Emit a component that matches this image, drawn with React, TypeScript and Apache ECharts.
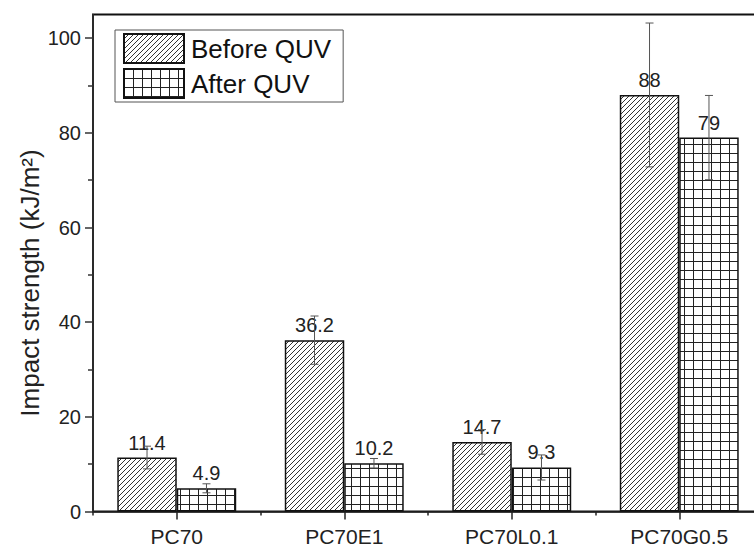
import React, { useEffect, useRef } from 'react';
import * as echarts from 'echarts';

const categories = ['PC70', 'PC70E1', 'PC70L0.1', 'PC70G0.5'];
const beforeQUV = [11.4, 36.2, 14.7, 88];
const afterQUV = [4.9, 10.2, 9.3, 79];
const beforeErr = [2.4, 5.1, 2.6, 15.2];
const afterErr = [0.95, 1.0, 2.65, 8.9];
const yTicks = [0, 20, 40, 60, 80, 100];
const yMinorTicks = [10, 30, 50, 70, 90];
const seriesNames = ['Before QUV', 'After QUV'];
const yTitle = 'Impact strength (kJ/m²)';

const FONT = "'Liberation Sans', Arial, Helvetica, sans-serif";
const GAP = 0.29;

function makeHatch() {
  const s = 5;
  const c = document.createElement('canvas');
  c.width = s;
  c.height = s;
  const ctx = c.getContext('2d')!;
  ctx.fillStyle = '#fff';
  ctx.fillRect(0, 0, s, s);
  ctx.strokeStyle = '#333';
  ctx.lineWidth = 1;
  ctx.beginPath();
  ctx.moveTo(-1, s + 1);
  ctx.lineTo(s + 1, -1);
  ctx.moveTo(-1, 1);
  ctx.lineTo(1, -1);
  ctx.moveTo(s - 1, s + 1);
  ctx.lineTo(s + 1, s - 1);
  ctx.stroke();
  return { image: c, repeat: 'repeat', imageWidth: s, imageHeight: s };
}

function makeGrid() {
  const s = 9;
  const c = document.createElement('canvas');
  c.width = s;
  c.height = s;
  const ctx = c.getContext('2d')!;
  ctx.fillStyle = '#fff';
  ctx.fillRect(0, 0, s, s);
  ctx.fillStyle = '#222';
  ctx.fillRect(0, 0, s, 1);
  ctx.fillRect(0, 0, 1, s);
  return { image: c, repeat: 'repeat', imageWidth: s, imageHeight: s };
}

const makeErr = (sign: number) => (params: any, api: any) => {
  const idx = api.value(0);
  const v = api.value(1);
  const e = api.value(2);
  const band = api.size([1, 0])[0];
  const barW = (band * (1 - GAP)) / 2;
  const cx = api.coord([idx, v])[0] + (sign * barW) / 2;
  const yt = api.coord([idx, v + e])[1];
  const yb = api.coord([idx, v - e])[1];
  const cap = 4;
  const style = { stroke: '#555', lineWidth: 1 };
  return {
    type: 'group',
    children: [
      { type: 'line', shape: { x1: cx, y1: yt, x2: cx, y2: yb }, style },
      { type: 'line', shape: { x1: cx - cap, y1: yt, x2: cx + cap, y2: yt }, style },
      { type: 'line', shape: { x1: cx - cap, y1: yb, x2: cx + cap, y2: yb }, style },
    ],
  };
};

export default function App() {
  const ref = useRef<HTMLDivElement>(null);
  useEffect(() => {
    document.body.style.margin = '0';
    const chart = echarts.init(ref.current!, null, { renderer: 'svg' });
    const hatch = makeHatch();
    const grid = makeGrid();
    const labelStyle = {
      show: true,
      position: 'top',
      distance: 5,
      fontSize: 20,
      color: '#222',
      fontFamily: FONT,
    };
    chart.setOption({
      animation: false,
      backgroundColor: '#fff',
      textStyle: { fontFamily: FONT },
      grid: {
        left: 93,
        top: 14.5,
        width: 670,
        height: 497,
        show: true,
        borderColor: '#111',
        borderWidth: 2,
        backgroundColor: 'transparent',
        containLabel: false,
        outerBoundsMode: 'none',
      },
      legend: {
        data: seriesNames,
        orient: 'vertical',
        left: 115,
        top: 30,
        icon: 'rect',
        itemWidth: 60,
        itemHeight: 29,
        itemGap: 4,
        padding: [3, 12, 3, 8],
        borderColor: '#555',
        borderWidth: 1,
        selectedMode: false,
        textStyle: { fontSize: 26, color: '#111', fontFamily: FONT, padding: [0, 0, 0, 2] },
      },
      xAxis: [
        {
          type: 'category',
          data: categories,
          position: 'bottom',
          boundaryGap: true,
          axisLine: { show: true, lineStyle: { color: '#222', width: 1.5 } },
          axisTick: { show: true, alignWithLabel: true, length: 8, lineStyle: { color: '#222', width: 1.5 } },
          axisLabel: { fontSize: 21, color: '#222', margin: 14, fontFamily: FONT },
          splitLine: { show: false },
        },
        {
          type: 'category',
          data: categories,
          position: 'bottom',
          boundaryGap: true,
          axisLine: { show: false },
          axisTick: { show: true, length: 4, lineStyle: { color: '#222', width: 1.5 } },
          axisLabel: { show: false },
          splitLine: { show: false },
        },
      ],
      yAxis: [
        {
          type: 'value',
          min: 0,
          max: 105,
          interval: 20,
          position: 'left',
          axisLine: { show: true, lineStyle: { color: '#333', width: 1.5 } },
          axisTick: { show: true, length: 8, customValues: yTicks, lineStyle: { color: '#333', width: 1.5 } },
          axisLabel: { fontSize: 20, color: '#222', margin: 12, customValues: yTicks, fontFamily: FONT },
          splitLine: { show: false },
        },
        {
          type: 'value',
          min: 0,
          max: 105,
          interval: 10,
          position: 'left',
          axisLine: { show: false },
          axisTick: { show: true, length: 5, customValues: yMinorTicks, lineStyle: { color: '#333', width: 1.5 } },
          axisLabel: { show: false },
          splitLine: { show: false },
        },
      ],
      graphic: [
        {
          type: 'text',
          x: 30,
          y: 283,
          rotation: Math.PI / 2,
          style: {
            text: yTitle,
            fontSize: 26,
            fontFamily: FONT,
            fill: '#222',
            align: 'center',
            verticalAlign: 'middle',
          },
        },
      ],
      series: [
        {
          name: seriesNames[0],
          type: 'bar',
          data: beforeQUV,
          barGap: '0%',
          barCategoryGap: GAP * 100 + '%',
          itemStyle: { color: hatch, borderColor: '#111', borderWidth: 1.5 },
          label: labelStyle,
          z: 2,
        },
        {
          name: seriesNames[1],
          type: 'bar',
          data: afterQUV,
          barGap: '0%',
          barCategoryGap: GAP * 100 + '%',
          itemStyle: { color: grid, borderColor: '#111', borderWidth: 1.5 },
          label: labelStyle,
          z: 2,
        },
        {
          type: 'custom',
          name: 'errBefore',
          renderItem: makeErr(-1),
          data: categories.map((c, i) => [i, beforeQUV[i], beforeErr[i]]),
          encode: { x: 0, y: 1 },
          z: 10,
          silent: true,
        },
        {
          type: 'custom',
          name: 'errAfter',
          renderItem: makeErr(1),
          data: categories.map((c, i) => [i, afterQUV[i], afterErr[i]]),
          encode: { x: 0, y: 1 },
          z: 10,
          silent: true,
        },
      ],
    });
    return () => chart.dispose();
  }, []);
  return <div ref={ref} style={{ width: 754, height: 547, position: 'fixed', left: 0, top: 0 }} />;
}
